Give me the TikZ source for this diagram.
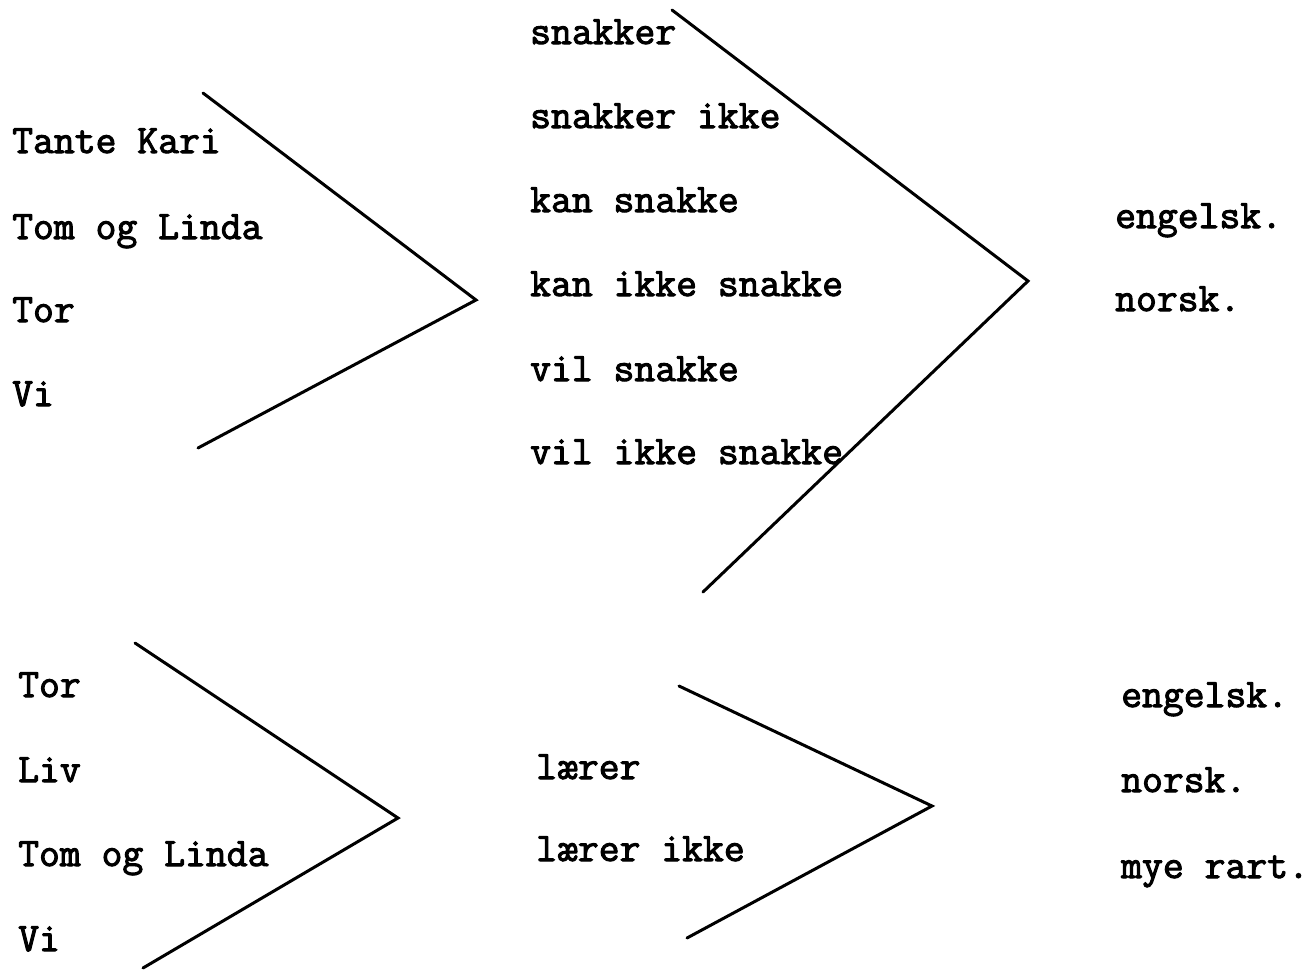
\documentclass[tikz,border=0pt]{standalone}
\usepackage{fontspec}
\newfontfamily\tw[FakeBold=2.5]{Latin Modern Mono}
\begin{document}
\begin{tikzpicture}[x=1pt,y=-1pt,
  word/.style={anchor=base west,inner sep=0pt,font=\tw\fontsize{40.5}{48}\selectfont},
  bar/.style={line width=3pt,line cap=round}]
\useasboundingbox[fill=white] (0,0) rectangle (1310,972);
% top block
\node[word] (a1) at (12,153) {Tante Kari};
\node[word] (a2) at (12,239) {Tom og Linda};
\node[word] (a3) at (12,322) {Tor};
\node[word] (a4) at (12,406) {Vi};
\node[word] (b1) at (530,44) {snakker};
\node[word] (b2) at (530,128) {snakker ikke};
\node[word] (b3) at (530,212) {kan snakke};
\node[word] (b4) at (530,296) {kan ikke snakke};
\node[word] (b5) at (530,381) {vil snakke};
\node[word] (b6) at (530,464) {vil ikke snakke};
\node[word] (c1) at (1115,228) {engelsk.};
\node[word] (c2) at (1115,311) {norsk.};
\coordinate (p1) at (203,93);
\coordinate (p2) at (476,300);
\coordinate (p3) at (198,448);
\coordinate (q1) at (672,10);
\coordinate (q2) at (1028,281);
\coordinate (q3) at (703,592);
\draw[bar] (p1) -- (p2) -- (p3);
\draw[bar] (q1) -- (q2) -- (q3);
% bottom block
\node[word] (d1) at (18,697) {Tor};
\node[word] (d2) at (18,782) {Liv};
\node[word] (d3) at (18,866) {Tom og Linda};
\node[word] (d4) at (18,951) {Vi};
\node[word] (e1) at (536,779) {lærer};
\node[word] (e2) at (536,861) {lærer ikke};
\node[word] (f1) at (1121,707) {engelsk.};
\node[word] (f2) at (1121,792) {norsk.};
\node[word] (f3) at (1121,878) {mye rart.};
\coordinate (r1) at (135,643);
\coordinate (r2) at (398,818);
\coordinate (r3) at (143,968);
\coordinate (s1) at (679,686);
\coordinate (s2) at (932,806);
\coordinate (s3) at (687,938);
\draw[bar] (r1) -- (r2) -- (r3);
\draw[bar] (s1) -- (s2) -- (s3);
\end{tikzpicture}
\end{document}
